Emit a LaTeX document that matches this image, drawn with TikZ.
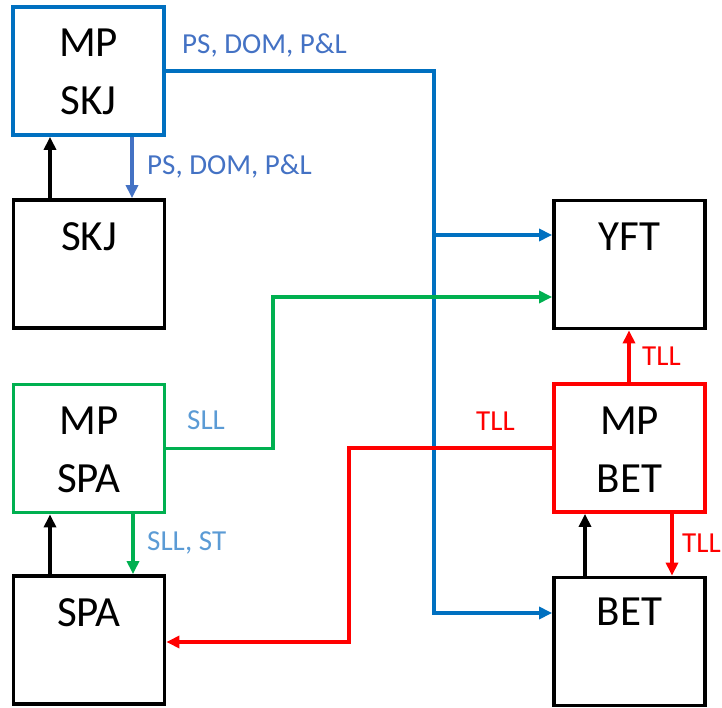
\documentclass[tikz,border=0pt]{standalone}
\usepackage{fontspec}
\setmainfont{Carlito}
\usetikzlibrary{arrows.meta}
\definecolor{mpblue}{HTML}{0070C0}
\definecolor{midblue}{HTML}{4472C4}
\definecolor{lblue}{HTML}{5B9BD5}
\definecolor{mpgreen}{HTML}{00B050}
\definecolor{mpred}{HTML}{FF0000}
\tikzset{
  box/.style={draw, line width=3.8pt, minimum width=151pt, minimum height=128pt, inner sep=0pt},
  big/.style={font=\fontsize{43}{58}\selectfont, align=center, inner sep=0pt},
  lab/.style={font=\fontsize{29}{34}\selectfont, inner sep=0pt, anchor=west},
  conn/.style={line width=3.5pt, -{Triangle[length=13pt,width=12pt]}},
  plain/.style={line width=3.5pt}
}
\begin{document}
\begin{tikzpicture}[x=1pt,y=-1pt]
\useasboundingbox (0,0) rectangle (722,708);
% boxes
\node[box, draw=mpblue] (mpskj) at (88.5,71) {};
\node[box] (skj) at (89,264) {};
\node[box, draw=mpgreen] (mpspa) at (89,448.5) {};
\node[box] (spa) at (89,640) {};
\node[box] (yft) at (629.5,264.5) {};
\node[box, draw=mpred] (mpbet) at (629.5,448) {};
\node[box] (bet) at (629.5,641.5) {};
% texts
\node[big] (tmpskj) at (88.5,72) {MP\\SKJ};
\node[big] (tskj) at (89,237) {SKJ};
\node[big] (tmpspa) at (89,450) {MP\\SPA};
\node[big] (tspa) at (89,613) {SPA};
\node[big] (tyft) at (629.5,237) {YFT};
\node[big] (tmpbet) at (629.5,450) {MP\\BET};
\node[big] (tbet) at (629.5,612) {BET};
% labels
\node[lab, text=midblue] (l1) at (182,45) {PS, DOM, P\&L};
\node[lab, text=midblue] (l2) at (147,166) {PS, DOM, P\&L};
\node[lab, text=lblue] (l3) at (187,420) {SLL};
\node[lab, text=lblue] (l4) at (147,543) {SLL, ST};
\node[lab, text=mpred] (l5) at (476,421) {TLL};
\node[lab, text=mpred] (l6) at (642,356) {TLL};
\node[lab, text=mpred] (l7) at (682,543) {TLL};
% coordinates
\coordinate (b1) at (434,613);
\coordinate (b2) at (434,235);
\coordinate (g1) at (273,297);
\coordinate (r1) at (349,642);
% blue
\draw[conn, mpblue] (mpskj.east) -| (b1) -- (b1 -| bet.west);
\draw[conn, mpblue] (b2) -- (b2 -| yft.west);
\draw[conn, midblue] (mpskj.south -| 132,0) -- (skj.north -| 132,0);
% green
\draw[conn, mpgreen] (mpspa.east) -| (g1) -- (g1 -| yft.west);
\draw[conn, mpgreen] (mpspa.south -| 133,0) -- (spa.north -| 133,0);
% red
\draw[conn, mpred] (mpbet.west) -| (r1) -- (r1 -| spa.east);
\draw[conn, mpred] (mpbet.north -| 629,0) -- (yft.south -| 629,0);
\draw[conn, mpred] (mpbet.south -| 672,0) -- (bet.north -| 672,0);
% black
\draw[conn] (skj.north -| 50,0) -- (mpskj.south -| 50,0);
\draw[conn] (spa.north -| 50,0) -- (mpspa.south -| 50,0);
\draw[conn] (bet.north -| 585,0) -- (mpbet.south -| 585,0);
\end{tikzpicture}
\end{document}
